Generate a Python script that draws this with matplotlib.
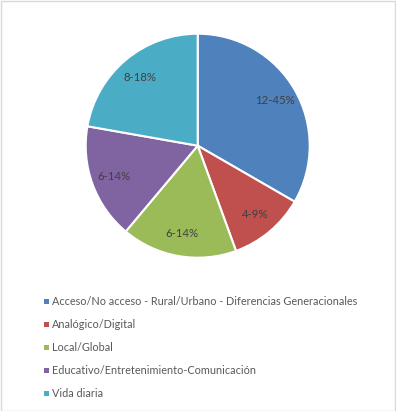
import matplotlib.pyplot as plt
from matplotlib.patches import Rectangle

# ===== Data =====
categories = [
    "Acceso/No acceso - Rural/Urbano - Diferencias Generacionales",
    "Analógico/Digital",
    "Local/Global",
    "Educativo/Entretenimiento-Comunicación",
    "Vida diaria",
]
counts = [12, 4, 6, 6, 8]
percents = [45, 9, 14, 14, 18]
colors = ["#4F81BD", "#C0504D", "#9BBB59", "#8064A2", "#4BACC6"]

# ===== Layout (pixels) =====
W, H = 396, 411
CX, CY, R = 197.7, 145.7, 112
LEGEND_X = 46
LEGEND_Y0 = 301
LEGEND_STEP = 23

plt.rcParams["font.family"] = ["Lato", "DejaVu Sans"]

fig = plt.figure(figsize=(W / 100, H / 100), dpi=100)
ax = fig.add_axes([(CX - R) / W, (H - CY - R) / H, 2 * R / W, 2 * R / H])

labels = [f"{c}-{p}%" for c, p in zip(counts, percents)]
wedges, texts = ax.pie(
    counts,
    colors=colors,
    startangle=90,
    counterclock=False,
    labels=labels,
    labeldistance=0.8,
    wedgeprops=dict(edgecolor="white", linewidth=1.5),
    textprops=dict(color="#404040", fontsize=8.2),
)
for t in texts:
    t.set_horizontalalignment("center")
    t.set_verticalalignment("center")
ax.set_xlim(-1, 1)
ax.set_ylim(-1, 1)
ax.axis("off")

# legend, one row per category
for i, (name, col) in enumerate(zip(categories, colors)):
    y = LEGEND_Y0 + i * LEGEND_STEP
    fig.add_artist(Rectangle(((LEGEND_X - 2.5) / W, (H - y - 2.5) / H), 5 / W, 5 / H,
                             transform=fig.transFigure, facecolor=col, edgecolor="none"))
    fig.text((LEGEND_X + 6) / W, (H - y) / H, name, color="#595959", fontsize=7.8,
             ha="left", va="center")

# chart area border
fig.add_artist(Rectangle((0.5 / W, 0.5 / H), 1 - 1.5 / W, 1 - 1.5 / H, transform=fig.transFigure,
                         facecolor="none", edgecolor="#D9D9D9", linewidth=1))

fig.savefig("out.png", dpi=100)
